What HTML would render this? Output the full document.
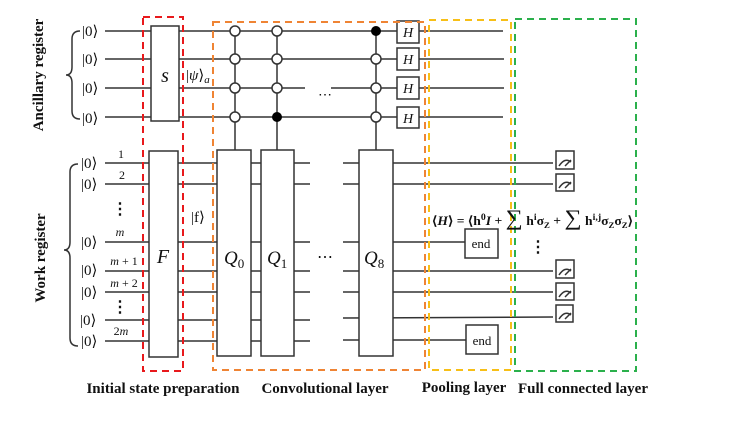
<!DOCTYPE html>
<html><head><meta charset="utf-8"><style>
body{margin:0;background:#fff}
svg{display:block}
text{font-family:"Liberation Serif",serif;fill:#111}
.w{stroke:#333;stroke-width:1.5;fill:none}
.b{stroke:#333;stroke-width:1.5;fill:#fff}
.it{font-style:italic}
</style></head><body>
<svg width="747" height="421" viewBox="0 0 747 421" xmlns="http://www.w3.org/2000/svg">
<g class="w">
<line x1="105" y1="31" x2="232" y2="31"/><line x1="105" y1="59" x2="400" y2="59"/>
<line x1="105" y1="88" x2="305" y2="88"/><line x1="331" y1="88" x2="400" y2="88"/>
<line x1="105" y1="117" x2="400" y2="117"/>
<line x1="232" y1="31" x2="400" y2="31"/>
<line x1="419" y1="31" x2="503" y2="31"/><line x1="419" y1="59" x2="504" y2="59"/>
<line x1="419" y1="88" x2="504" y2="88"/><line x1="419" y1="117" x2="503" y2="117"/>
<line x1="105" y1="163" x2="310" y2="163"/><line x1="343" y1="163" x2="553" y2="163"/>
<line x1="105" y1="184" x2="310" y2="184"/><line x1="343" y1="184" x2="553" y2="184"/>
<line x1="105" y1="242" x2="310" y2="242"/><line x1="343" y1="242" x2="466" y2="242"/>
<line x1="105" y1="271" x2="310" y2="271"/><line x1="343" y1="271" x2="553" y2="271"/>
<line x1="105" y1="292" x2="310" y2="292"/><line x1="343" y1="292" x2="553" y2="292"/>
<line x1="105" y1="320" x2="310" y2="320"/><line x1="343" y1="318" x2="553" y2="317"/>
<line x1="105" y1="341" x2="310" y2="341"/><line x1="343" y1="340" x2="466" y2="340"/>
<line x1="235" y1="31" x2="235" y2="150"/><line x1="277" y1="31" x2="277" y2="150"/><line x1="376" y1="31" x2="376" y2="150"/>
</g>
<g class="b">
<circle cx="235" cy="31" r="5"/><circle cx="235" cy="59" r="5"/><circle cx="235" cy="88" r="5"/><circle cx="235" cy="117" r="5"/>
<circle cx="277" cy="31" r="5"/><circle cx="277" cy="59" r="5"/><circle cx="277" cy="88" r="5"/>
<circle cx="376" cy="59" r="5"/><circle cx="376" cy="88" r="5"/><circle cx="376" cy="117" r="5"/>
</g>
<circle cx="277" cy="117" r="5" fill="#000"/><circle cx="376" cy="31" r="5" fill="#000"/>
<g class="b">
<rect x="151" y="26" width="28" height="95"/>
<rect x="149" y="151" width="29" height="206"/>
<rect x="217" y="150" width="34" height="206"/>
<rect x="261" y="150" width="33" height="206"/>
<rect x="359" y="150" width="34" height="206"/>
<rect x="397" y="21" width="22" height="22"/><rect x="397" y="48" width="22" height="22"/>
<rect x="397" y="77" width="22" height="22"/><rect x="397" y="107" width="22" height="21"/>
<rect x="465" y="229" width="33" height="29"/><rect x="466" y="325" width="32" height="29"/>
</g>
<g class="b">
<rect x="556" y="151" width="18" height="18"/><rect x="556" y="174" width="18" height="17"/>
<rect x="556" y="260" width="18" height="18"/><rect x="556" y="283" width="18" height="17"/>
<rect x="556" y="305" width="17" height="17"/>
</g>
<g class="w" stroke-width="1.3">
<path d="M559 166 q6 -9 12 -4 M565 166 l6 -6"/><path d="M559 188 q6 -9 12 -4 M565 188 l6 -6"/>
<path d="M559 275 q6 -9 12 -4 M565 275 l6 -6"/><path d="M559 297 q6 -9 12 -4 M565 297 l6 -6"/>
<path d="M559 319 q6 -9 12 -4 M565 319 l6 -6"/>
</g>
<g fill="none" stroke-width="2" stroke-dasharray="7,5">
<rect x="143" y="17" width="40" height="354" stroke="#e8191c"/>
<rect x="213" y="22" width="212" height="348" stroke="#ef8434"/>
<rect x="429" y="20" width="82" height="350" stroke="#f7bf17"/>
<rect x="515" y="19" width="121" height="352" stroke="#2bb04c"/>
</g>
<g class="w" stroke-width="1.3">
<path d="M80 31 q-8 0 -8 8 v28 q0 8 -6 8 q6 0 6 8 v28 q0 8 8 8"/>
<path d="M78 164 q-8 0 -8 8 v70 q0 8 -6 8 q6 0 6 8 v80 q0 8 8 8"/>
</g>
<g font-size="15">
<text x="82" y="36">|0⟩</text><text x="82" y="64">|0⟩</text><text x="82" y="93">|0⟩</text><text x="82" y="123">|0⟩</text>
<text x="81" y="168">|0⟩</text><text x="81" y="189">|0⟩</text><text x="81" y="247">|0⟩</text><text x="81" y="275">|0⟩</text>
<text x="81" y="297">|0⟩</text><text x="80" y="325">|0⟩</text><text x="81" y="346">|0⟩</text>
</g>
<g font-size="12" text-anchor="middle">
<text x="121" y="158">1</text><text x="122" y="179">2</text>
<text x="120" y="236" class="it">m</text><text x="124" y="265"><tspan class="it">m</tspan> + 1</text>
<text x="124" y="287"><tspan class="it">m</tspan> + 2</text><text x="121" y="335">2<tspan class="it">m</tspan></text>
<text x="120" y="214" font-size="16" font-weight="bold">⋮</text><text x="120" y="312" font-size="16" font-weight="bold">⋮</text>
</g>
<text x="165" y="82" font-size="20" class="it" text-anchor="middle">s</text>
<text x="163" y="263" font-size="20" class="it" text-anchor="middle">F</text>
<text x="186" y="80" font-size="15">|<tspan class="it">ψ</tspan>⟩<tspan class="it" font-size="11" dy="3">a</tspan></text>
<text x="191" y="222" font-size="15">|f⟩</text>
<text x="224" y="264" font-size="19" class="it">Q<tspan font-size="13" font-style="normal" dy="4">0</tspan></text>
<text x="267" y="264" font-size="19" class="it">Q<tspan font-size="13" font-style="normal" dy="4">1</tspan></text>
<text x="364" y="264" font-size="19" class="it">Q<tspan font-size="13" font-style="normal" dy="4">8</tspan></text>
<text x="318" y="99" font-size="14">⋯</text><text x="317" y="262" font-size="16">⋯</text>
<g font-size="14" class="it" text-anchor="middle">
<text x="408" y="37">H</text><text x="408" y="64">H</text><text x="408" y="93">H</text><text x="408" y="123">H</text>
</g>
<text x="481" y="248" font-size="13" text-anchor="middle">end</text>
<text x="482" y="345" font-size="13" text-anchor="middle">end</text>
<text x="432" y="225" font-size="12.5" font-weight="bold" textLength="201" lengthAdjust="spacingAndGlyphs">⟨<tspan class="it">H</tspan>⟩ = ⟨h<tspan font-size="9" dy="-5">0</tspan><tspan dy="5" class="it">I</tspan> + <tspan font-size="22" font-weight="normal">∑</tspan> h<tspan font-size="9" dy="-5">i</tspan><tspan dy="5">σ</tspan><tspan font-size="8" dy="3">Z</tspan><tspan dy="-3"> + </tspan><tspan font-size="22" font-weight="normal">∑</tspan> h<tspan font-size="9" dy="-5">i,j</tspan><tspan dy="5">σ</tspan><tspan font-size="8" dy="3">Z</tspan><tspan dy="-3">σ</tspan><tspan font-size="8" dy="3">Z</tspan><tspan dy="-3">⟩</tspan></text>
<text x="538" y="252" font-size="16" font-weight="bold" text-anchor="middle">⋮</text>
<g font-size="15" font-weight="bold" text-anchor="middle">
<text x="163" y="393">Initial state preparation</text>
<text x="325" y="393">Convolutional layer</text>
<text x="464" y="392">Pooling layer</text>
<text x="583" y="393">Full connected layer</text>
<text transform="translate(43,75) rotate(-90)">Ancillary register</text>
<text transform="translate(45,258) rotate(-90)">Work register</text>
</g>
</svg>
</body></html>
